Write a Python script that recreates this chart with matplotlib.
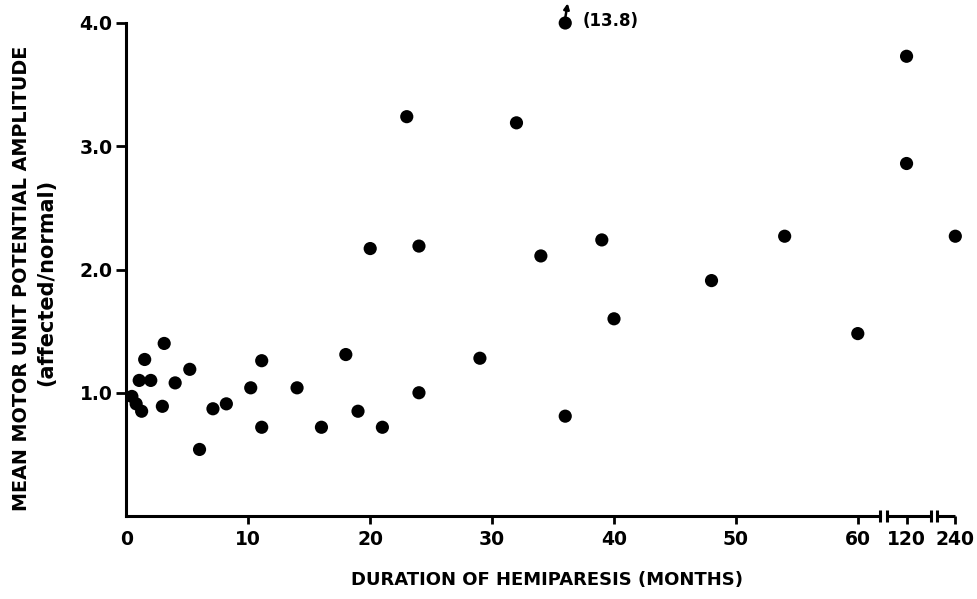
import numpy as np
import matplotlib
matplotlib.use("Agg")
import matplotlib.pyplot as plt

# ---- data (months, affected/normal amplitude ratio) ----
months = [0.45, 0.8, 1.25, 1.05, 1.5, 2.0, 3.1, 2.95, 4.0, 5.2, 6.0, 7.1, 8.2,
          10.2, 11.1, 11.1, 14.0, 16.0, 18.0, 19.0, 20.0, 21.0, 23.0, 24.0,
          24.0, 29.0, 32.0, 34.0, 36.0, 39.0, 40.0, 48.0, 54.0, 60.0,
          120, 120, 240]
ratio = [0.97, 0.91, 0.85, 1.10, 1.27, 1.10, 1.40, 0.89, 1.08, 1.19, 0.54,
         0.87, 0.91, 1.04, 1.26, 0.72, 1.04, 0.72, 1.31, 0.85, 2.17, 0.72,
         3.24, 2.19, 1.00, 1.28, 3.19, 2.11, 0.81, 2.24, 1.60, 1.91, 2.27,
         1.48, 3.73, 2.86, 2.27]
# off-scale point plotted at the top of the axis
offscale_month = 36.0
offscale_value = 13.8
offscale_plot = 4.0

xticks = [0, 10, 20, 30, 40, 50, 60, 120, 240]
xticklabels = ["0", "10", "20", "30", "40", "50", "60", "120", "240"]
yticks = [1.0, 2.0, 3.0, 4.0]
yticklabels = ["1.0", "2.0", "3.0", "4.0"]

# broken x scale: linear to 60, then compressed segments for 120 and 240
scale_real = [-100, 0, 60, 120, 240, 400]
scale_disp = [-100, 0, 60, 64, 68, 73.33]
def fwd(x):
    return np.interp(x, scale_real, scale_disp)
def inv(x):
    return np.interp(x, scale_disp, scale_real)

plt.rcParams['font.family'] = ['DejaVu Sans']
fig = plt.figure(figsize=(9.77, 5.99), dpi=100)
W, H = 977, 599
x0_px, y0_px = 126.4, 516
px_per_month = 12.19
px_per_unit = 123.25
xmax_disp = 69.0
ymax = 4.15
ax = fig.add_axes([x0_px / W, (H - y0_px) / H,
                   xmax_disp * px_per_month / W, ymax * px_per_unit / H])
ax.set_xscale('function', functions=(fwd, inv))
ax.set_xlim(0, inv(xmax_disp))
ax.set_ylim(0, ymax)

ax.scatter(months, ratio, s=90, color='black', edgecolors='none', zorder=3,
           clip_on=False)
ax.scatter([offscale_month], [offscale_plot], s=90, color='black',
           edgecolors='none', zorder=3, clip_on=False)
ax.annotate("", xy=(offscale_month + 0.2, offscale_plot + 0.16),
            xytext=(offscale_month, offscale_plot + 0.04),
            arrowprops=dict(arrowstyle='-|>', color='black', lw=1.8,
                            mutation_scale=8, shrinkA=0, shrinkB=0),
            annotation_clip=False)
ax.text(offscale_month + 1.4, offscale_plot + 0.02, f"({offscale_value})",
        fontsize=12, fontweight='bold', va='center', ha='left')

# spines
for s in ['top', 'right']:
    ax.spines[s].set_visible(False)
ax.spines['left'].set_bounds(0, 4.0)
ax.spines['left'].set_linewidth(2.2)
ax.spines['bottom'].set_bounds(0, 87)
ax.spines['bottom'].set_linewidth(2.2)

# extra x-axis segments after breaks
lw = 2.2
ax.plot([96, 180], [0, 0], color='black', lw=lw, clip_on=False,
        solid_capstyle='butt')
ax.plot([195, 240], [0, 0], color='black', lw=lw, clip_on=False,
        solid_capstyle='butt')
for bx in [87, 96, 180, 195]:
    ax.plot([bx, bx], [-0.05, 0.05], color='black', lw=lw, clip_on=False,
            solid_capstyle='butt')

ax.set_xticks(xticks)
ax.set_xticklabels(xticklabels)
ax.set_yticks(yticks)
ax.set_yticklabels(yticklabels)
ax.tick_params(axis='x', direction='out', length=6, width=2.0, pad=4,
               labelsize=13.5)
ax.tick_params(axis='y', direction='out', length=7, width=2.0, pad=3,
               labelsize=13.5)
ax.xaxis.get_major_ticks()[0].tick1line.set_visible(False)
for lab in ax.get_xticklabels() + ax.get_yticklabels():
    lab.set_fontweight('bold')

ax.set_xlabel("DURATION OF HEMIPARESIS (MONTHS)", fontsize=13,
              fontweight='bold', labelpad=16)
fig.text(22 / W, 1 - 278 / H, "MEAN MOTOR UNIT POTENTIAL AMPLITUDE",
         rotation=90, fontsize=13.8, fontweight='bold', ha='center',
         va='center')
fig.text(46 / W, 1 - 282 / H, "(affected/normal)", rotation=90, fontsize=15,
         fontweight='bold', ha='center', va='center')

fig.savefig("out.png", dpi=100)
